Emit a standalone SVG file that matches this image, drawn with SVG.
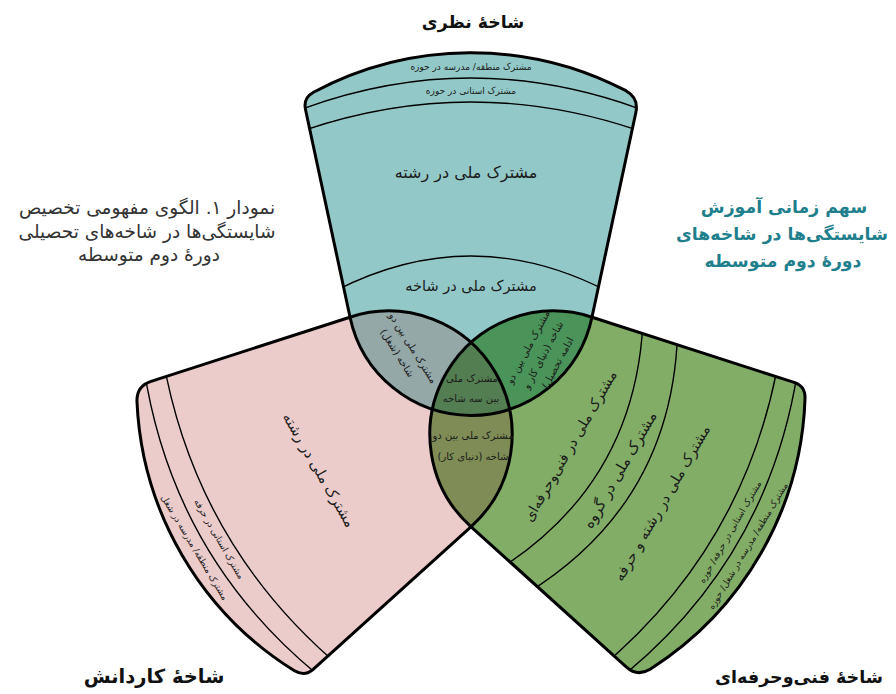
<svg xmlns="http://www.w3.org/2000/svg" width="896" height="694" viewBox="0 0 896 694">
<style>
text { font-family: "DejaVu Sans", "Noto Sans", sans-serif; direction: rtl; text-anchor: middle; fill: #1a1a1a; }
.outline { fill: none; stroke: #000; stroke-width: 3; stroke-linejoin: round; }
.band { fill: none; stroke: #000; stroke-width: 1.4; }
.title { font-weight: bold; font-size: 18px; fill: #111; }
.cap { font-size: 18.5px; fill: #333; }
.cap2 { font-size: 17.3px; font-weight: bold; fill: #1F7F8D; }
.s { font-size: 9px; }
.m { font-size: 10px; }
.l { font-size: 14.5px; }
</style>
<defs>
<path id="petal" d="M 350,317 L 305.5,109.5 Q 303,98 313.5,92.2 A 334.3 334.3 0 0 1 625.9,90.7 Q 639,98 635.8,112.7 L 592,317 A 123.6 123.6 0 0 1 350,317 Z"/>
<clipPath id="cT"><use href="#petal"/></clipPath>
<clipPath id="cL"><use href="#petal" transform="rotate(-120 471 387)"/></clipPath>
<clipPath id="cR"><use href="#petal" transform="rotate(120 471 387)"/></clipPath>
</defs>

<g id="petal-theory">
  <use href="#petal" fill="#93C8C8"/>
  <g clip-path="url(#cT)">
    <path class="band" d="M 290,113.6 Q 471,42.4 652,113.6"/>
    <path class="band" d="M 290,135.3 Q 471,68.7 652,135.3"/>
    <path class="band" d="M 330,293.6 Q 471,218.4 612,293.6"/>
  </g>
</g>
<g id="petal-kardanesh" transform="rotate(-120 471 387)">
  <use href="#petal" fill="#EBCCCB"/>
  <g clip-path="url(#cT)">
    <path class="band" d="M 290,113.6 Q 471,42.4 652,113.6"/>
    <path class="band" d="M 290,135.3 Q 471,68.7 652,135.3"/>
  </g>
</g>
<g id="petal-fani" transform="rotate(120 471 387)">
  <use href="#petal" fill="#82AD67"/>
  <g clip-path="url(#cT)">
    <path class="band" d="M 290,113.6 Q 471,42.4 652,113.6"/>
    <path class="band" d="M 290,135.3 Q 471,68.7 652,135.3"/>
    <path class="band" d="M 320,235.6 Q 471,154.4 622,235.6"/>
    <path class="band" d="M 330,269.9 Q 471,198.1 612,269.9"/>
  </g>
</g>

<g id="lens-theory-kardanesh" clip-path="url(#cT)">
  <use href="#petal" transform="rotate(-120 471 387)" fill="#93A8A7"/>
</g>
<g id="lens-theory-fani" clip-path="url(#cT)">
  <use href="#petal" transform="rotate(120 471 387)" fill="#4A9459"/>
</g>
<g id="lens-kardanesh-fani" clip-path="url(#cL)">
  <use href="#petal" transform="rotate(120 471 387)" fill="#7F8C56"/>
</g>
<g id="center-all" clip-path="url(#cL)">
  <g clip-path="url(#cR)"><use href="#petal" fill="#527E51"/></g>
</g>

<g id="outlines">
  <use href="#petal" class="outline"/>
  <use href="#petal" class="outline" transform="rotate(-120 471 387)"/>
  <use href="#petal" class="outline" transform="rotate(120 471 387)"/>
</g>

<g id="labels-theory">
  <text class="s" x="471" y="70">مشترک منطقه/ مدرسه در حوزه</text>
  <text class="s" x="471" y="94">مشترک استانی در حوزه</text>
  <text class="l" x="466" y="178" style="font-size:16px">مشترک ملی در رشته</text>
  <text class="l" x="471" y="291">مشترک ملی در شاخه</text>
</g>
<g id="labels-kardanesh">
  <text class="l" transform="translate(319,470) rotate(60)" y="5">مشترک ملی در رشته</text>
  <text class="s" transform="translate(219,539) rotate(60)" y="3">مشترک استانی در حرفه</text>
  <text class="s" transform="translate(194.5,547.5) rotate(59)" y="3">مشترک منطقه/ مدرسه در شغل</text>
</g>
<g id="labels-fani">
  <text class="l" transform="translate(570,446) rotate(-60)" y="5" style="font-size:14.2px">مشترک ملی در فنی‌وحرفه‌ای</text>
  <text class="l" transform="translate(620,470) rotate(-60)" y="5" style="font-size:15px">مشترک ملی در گروه</text>
  <text class="l" transform="translate(662,503) rotate(-60)" y="5">مشترک ملی در رشته و حرفه</text>
  <text class="s" transform="translate(730,532) rotate(-60)" y="3">مشترک استانی در حرفه/ حوزه</text>
  <text class="s" transform="translate(748,546) rotate(-59)" y="3">مشترک منطقه/ مدرسه در شغل/ حوزه</text>
</g>
<g id="labels-lens-theory-kardanesh" transform="translate(413,348) rotate(58)">
  <text class="m" y="3.5">مشترک ملی بین دو</text>
  <text class="m" x="-4" y="19.5">شاخه (شغل)</text>
</g>
<g id="labels-lens-theory-fani" transform="translate(528,347) rotate(-62)">
  <text class="m" y="3.5">مشترک ملی بین دو</text>
  <text class="m" y="20.5">شاخه (دنیای کار و</text>
  <text class="m" y="37">ادامه تحصیل)</text>
</g>
<g id="labels-lens-kardanesh-fani">
  <text class="m" x="473" y="439">مشترک ملی بین دو</text>
  <text class="m" x="473" y="460">شاخه (دنیای کار)</text>
</g>
<g id="labels-center">
  <text class="m" x="472" y="382">مشترک ملی</text>
  <text class="m" x="471" y="402">بین سه شاخه</text>
</g>

<g id="title-theory"><text class="title" x="473" y="28" style="font-size:17.3px">شاخهٔ نظری</text></g>
<g id="title-kardanesh"><text class="title" x="154" y="683" style="font-size:19.5px">شاخهٔ کاردانش</text></g>
<g id="title-fani"><text class="title" x="799" y="683" style="font-size:17.5px">شاخهٔ فنی‌وحرفه‌ای</text></g>
<g id="caption-left">
  <text class="cap" x="147" y="214">نمودار ۱. الگوی مفهومی تخصیص</text>
  <text class="cap" x="147" y="238">شایستگی‌ها در شاخه‌های تحصیلی</text>
  <text class="cap" x="149" y="261">دورهٔ دوم متوسطه</text>
</g>
<g id="caption-right">
  <text class="cap2" x="784" y="213">سهم زمانی آموزش</text>
  <text class="cap2" x="782" y="240">شایستگی‌ها در شاخه‌های</text>
  <text class="cap2" x="783" y="267">دورهٔ دوم متوسطه</text>
</g>
</svg>
